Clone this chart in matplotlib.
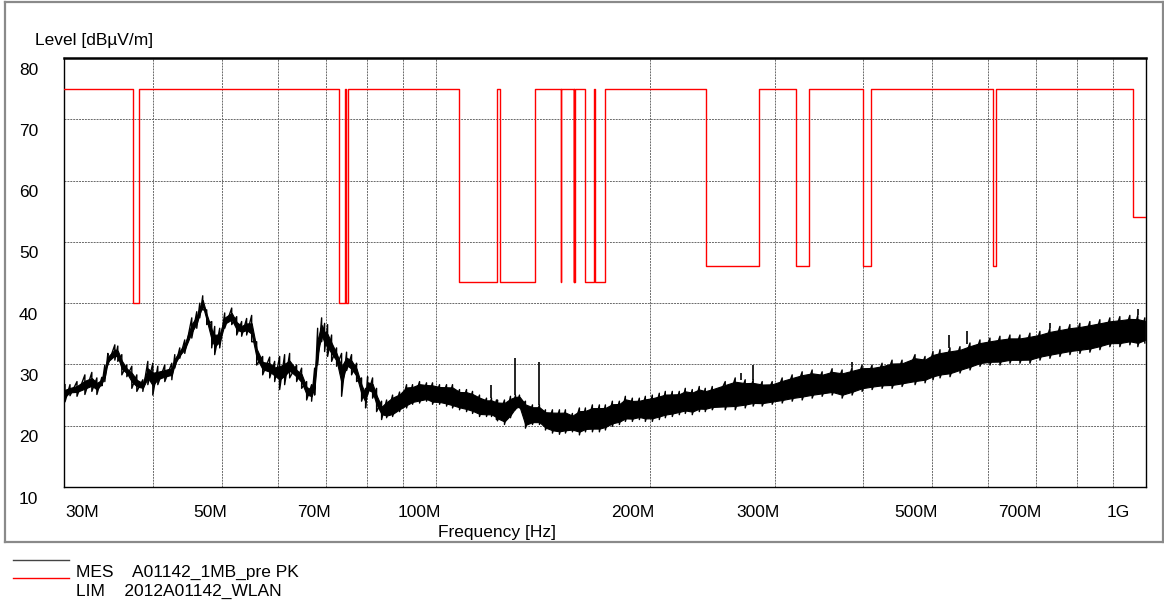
import matplotlib
matplotlib.use('Agg')
import matplotlib.pyplot as plt
import matplotlib.transforms as mtransforms
from matplotlib.lines import Line2D
import numpy as np

plt.rcParams['font.family'] = ['Liberation Sans', 'DejaVu Sans']

# ---------------- data ----------------
# measured trace (MES): frequency [MHz], lower / upper envelope [dBuV/m]
mes_freq = [30.07, 30.56, 31.26, 32.07, 32.80, 33.34, 33.88, 34.21, 34.55, 35.34,
            35.68, 36.15, 36.74, 37.34, 37.95, 38.70, 39.33, 39.97, 40.62, 41.55,
            42.51, 42.92, 43.62, 44.33, 45.35, 46.09, 46.54, 46.99, 47.60, 48.38,
            48.85, 49.65, 50.46, 51.62, 52.46, 53.31, 54.18, 55.07, 55.97, 57.07,
            58.38, 59.33, 60.30, 61.28, 62.28, 63.71, 64.75, 65.81, 66.88, 67.54,
            68.20, 69.09, 69.76, 70.44, 71.36, 72.52, 73.71, 74.91, 76.13, 77.38,
            78.64, 79.67, 80.19, 81.50, 82.56, 83.91, 85.29, 86.96, 88.95, 90.99,
            92.77, 94.90, 97.07, 98.98, 101.25, 103.58, 105.61, 108.03, 110.51, 112.68,
            115.26, 117.90, 119.83, 121.78, 122.18, 124.98, 127.43, 129.51, 131.20, 133.77,
            136.84, 139.98, 142.73, 146.00, 149.35, 152.28, 155.77, 159.34, 162.47, 166.19,
            170.00, 173.34, 177.31, 181.38, 184.93, 189.17, 193.51, 197.31, 201.83, 206.45,
            210.50, 215.33, 220.27, 224.59, 229.73, 235.00, 239.61, 245.11, 255.63, 264.05,
            272.73, 279.89, 288.17, 297.68, 307.48, 317.60, 328.05, 338.85, 350.00, 361.52,
            373.42, 385.71, 398.40, 411.51, 425.05, 439.05, 453.49, 473.00, 488.57, 501.38,
            512.87, 529.75, 547.18, 565.20, 583.80, 603.03, 622.87, 643.38, 664.55, 686.42,
            709.02, 732.35, 756.46, 781.36, 807.08, 833.64, 861.09, 889.43, 918.71, 948.95,
            973.82, 996.17]
mes_lo = [23.9, 24.9, 24.8, 25.1, 25.6, 25.1, 26.5, 27.2, 29.9, 30.7,
          30.5, 28.3, 28.0, 26.1, 25.6, 25.6, 26.7, 25.0, 26.7, 27.2,
          27.5, 29.4, 31.0, 31.8, 34.3, 35.9, 37.6, 38.9, 36.5, 32.7,
          31.6, 32.7, 35.9, 36.5, 34.8, 34.6, 34.8, 33.7, 29.9, 28.3,
          27.8, 27.2, 25.9, 26.7, 27.8, 27.2, 26.1, 24.2, 24.0, 25.0,
          29.9, 33.7, 32.1, 31.3, 30.5, 29.7, 24.8, 29.0, 28.3, 27.2,
          24.0, 22.9, 25.0, 24.5, 22.3, 21.0, 21.3, 21.5, 22.3, 22.9,
          23.5, 23.7, 24.0, 23.5, 23.5, 23.2, 22.9, 22.6, 22.3, 22.0,
          21.5, 21.5, 21.5, 21.0, 20.8, 20.2, 21.3, 22.6, 22.9, 19.6,
          20.2, 20.2, 19.3, 18.8, 18.6, 18.8, 19.0, 18.5, 19.0, 19.0,
          19.0, 19.3, 19.9, 20.2, 20.7, 20.7, 21.0, 20.7, 20.7, 21.0,
          21.3, 21.5, 21.8, 22.0, 21.8, 22.3, 22.3, 22.6, 22.6, 22.6,
          22.9, 23.2, 23.2, 23.5, 23.7, 24.0, 24.2, 24.5, 24.8, 25.0,
          24.5, 25.0, 25.6, 25.9, 26.1, 26.1, 26.4, 26.7, 27.0, 27.5,
          27.8, 28.0, 28.6, 29.1, 29.7, 29.9, 29.9, 30.2, 30.2, 30.2,
          30.7, 31.0, 31.3, 31.6, 31.8, 32.0, 32.4, 32.9, 32.9, 33.2,
          32.9, 33.5]
mes_hi = [26.7, 26.7, 27.2, 28.3, 28.7, 27.8, 27.9, 29.9, 31.8, 33.2,
          33.0, 31.6, 29.9, 29.7, 28.3, 27.5, 30.5, 30.2, 29.7, 29.9,
          30.2, 31.6, 32.7, 34.0, 37.6, 38.6, 40.0, 41.2, 38.9, 37.0,
          36.2, 35.9, 38.4, 39.2, 37.8, 37.0, 37.5, 38.0, 33.7, 31.3,
          31.2, 30.5, 31.3, 31.6, 31.8, 29.9, 29.4, 27.2, 26.7, 29.4,
          35.9, 37.6, 36.7, 36.5, 34.8, 32.7, 31.8, 32.0, 31.6, 30.2,
          27.8, 26.1, 28.0, 27.8, 26.1, 24.0, 24.2, 25.0, 25.5, 26.7,
          26.7, 27.2, 27.0, 27.0, 26.7, 26.7, 26.7, 25.9, 25.9, 25.6,
          25.0, 24.5, 24.5, 24.2, 24.2, 24.2, 24.8, 25.0, 25.0, 24.0,
          23.4, 23.4, 22.6, 22.6, 22.6, 22.6, 22.0, 22.9, 22.9, 23.4,
          23.4, 23.4, 24.0, 24.0, 24.8, 24.5, 24.5, 24.8, 25.0, 25.3,
          25.6, 25.6, 25.6, 26.1, 25.9, 26.4, 26.1, 26.4, 27.2, 27.8,
          27.5, 27.5, 27.2, 27.2, 27.8, 28.3, 28.8, 29.1, 28.8, 29.3,
          29.1, 29.5, 29.9, 29.9, 30.2, 30.7, 30.7, 31.6, 31.3, 32.1,
          32.4, 32.7, 32.9, 33.5, 34.0, 34.3, 34.6, 34.8, 34.8, 35.1,
          35.4, 35.9, 36.2, 36.5, 36.7, 37.0, 37.3, 37.6, 37.8, 38.0,
          38.0, 37.6]

# narrow spikes on top of the trace: frequency [MHz], base and peak [dBuV/m]
spike_freq = [119.8, 129.5, 140.0, 269.0, 279.9, 385.0, 528.0, 560.0, 732.0, 974.0]
spike_base = [24.5, 25.0, 23.4, 27.5, 27.5, 29.5, 32.7, 33.3, 35.9, 38.0]
spike_peak = [26.7, 31.1, 30.4, 28.6, 29.9, 30.4, 34.8, 35.4, 36.7, 39.1]

# limit line (LIM): base level, and restricted bands with their own level
lim_base = 75.0
band_start = [37.5, 73.0, 74.8, 108.0, 123.0, 149.9, 156.52475, 156.7, 162.0125, 167.72,
              240.0, 322.0, 399.9, 608.0, 960.0]
band_end = [38.25, 74.6, 75.2, 121.94, 138.0, 150.05, 156.52525, 156.9, 167.17, 173.2,
            285.0, 335.4, 410.0, 614.0, 1000.0]
band_level = [40.0, 40.0, 40.0, 43.5, 43.5, 43.5, 43.5, 43.5, 43.5, 43.5,
              46.0, 46.0, 46.0, 46.0, 54.0]

x_ticks = [30, 50, 70, 100, 200, 300, 500, 700, 1000]
x_ticklabels = ['30M', '50M', '70M', '100M', '200M', '300M', '500M', '700M', '1G']
x_grid = [40, 50, 60, 70, 80, 90, 100, 200, 300, 400, 500, 600, 700, 800, 900]
y_ticks = [10, 20, 30, 40, 50, 60, 70, 80]
f_min, f_max = 30, 1000

# ---------------- figure ----------------
W, H = 1164, 616
fig = plt.figure(figsize=(W / 100, H / 100), dpi=100)


def fx(px):
    return px / W


def fy(py):
    return 1 - py / H


ax = fig.add_axes([fx(64.3), fy(487), fx(1146) - fx(64.3), fy(58) - fy(487)])
ax.set_xscale('log')
ax.set_xlim(f_min, f_max)
ax.set_ylim(10, 80)

# grid
ax.set_xticks(x_grid, minor=False)
ax.set_yticks(y_ticks)
ax.tick_params(axis='both', which='both', length=0, labelbottom=False, labelleft=False)
ax.minorticks_off()
ax.grid(True, which='major', color='#6a6a6a', linestyle=(0, (2, 1)), linewidth=0.7)

for s in ax.spines.values():
    s.set_color('black')
    s.set_linewidth(1.0)
ax.spines['top'].set_linewidth(1.8)

# limit line as steps
lx = [f_min]
ly = [lim_base]
for s0, s1, lv in zip(band_start, band_end, band_level):
    lx += [s0, s0, s1, s1]
    ly += [lim_base, lv, lv, lim_base]
ly[-1] = band_level[-1]
ax.plot(lx, ly, color='#ff0000', linewidth=1.0, zorder=4)

# measured trace: min/max zig-zag around a solid core
fr = np.array(mes_freq)
lo = np.array(mes_lo)
hi = np.array(mes_hi)
span = hi - lo
trim = np.where(fr < 84, 0.3, 0.12)
ax.fill_between(fr, lo + trim * span, hi - trim * span, color='black', linewidth=0.8,
                edgecolor='black', zorder=3)
zx = np.repeat(fr, 2)
zy = np.column_stack([hi, lo]).ravel()
ax.plot(zx, zy, color='black', linewidth=1.0, zorder=3)
ax.vlines(spike_freq, spike_base, spike_peak, color='black', linewidth=1.2, zorder=3)

# tick labels
fs = 12.5
xtr = mtransforms.blended_transform_factory(ax.transData, ax.transAxes)
for v, lab in zip(x_ticks, x_ticklabels):
    if v == x_ticks[0]:
        off, ha = 1, 'left'
    elif v == x_ticks[-1]:
        off, ha = -16, 'right'
    else:
        off, ha = 5, 'right'
    t = xtr + mtransforms.ScaledTranslation(off / 100, -18 / 100, fig.dpi_scale_trans)
    ax.text(v, 0, lab, transform=t, ha=ha, va='top', fontsize=fs)

ytr = mtransforms.blended_transform_factory(ax.transAxes, ax.transData)
for v in y_ticks:
    t = ytr + mtransforms.ScaledTranslation(-26 / 100, -12 / 100, fig.dpi_scale_trans)
    ax.text(0, v, str(v), transform=t, ha='right', va='center', fontsize=fs)

fig.text(fx(35), fy(40), 'Level [dBµV/m]', ha='left', va='center', fontsize=fs)
fig.text(fx(438), fy(533), 'Frequency [Hz]', ha='left', va='center', fontsize=fs)

# frame
gray = '#8a8a8a'
for xs, ys in [([5, 5], [2, 542]), ([5, 1163], [2, 2]), ([5, 1164], [542, 542]),
               ([1163, 1163], [2, 542])]:
    fig.add_artist(Line2D([fx(a) for a in xs], [fy(b) for b in ys],
                          transform=fig.transFigure, color=gray, linewidth=1.6))

# legend
fig.add_artist(Line2D([fx(13), fx(69)], [fy(560), fy(560)], transform=fig.transFigure,
                      color='#444444', linewidth=1.0))
fig.add_artist(Line2D([fx(13), fx(69)], [fy(578), fy(578)], transform=fig.transFigure,
                      color='#ff0000', linewidth=1.0))
fig.text(fx(76), fy(572), 'MES    A01142_1MB_pre PK', ha='left', va='center', fontsize=fs)
fig.text(fx(76), fy(591), 'LIM    2012A01142_WLAN', ha='left', va='center', fontsize=fs)

fig.savefig('out.png', dpi=100)
